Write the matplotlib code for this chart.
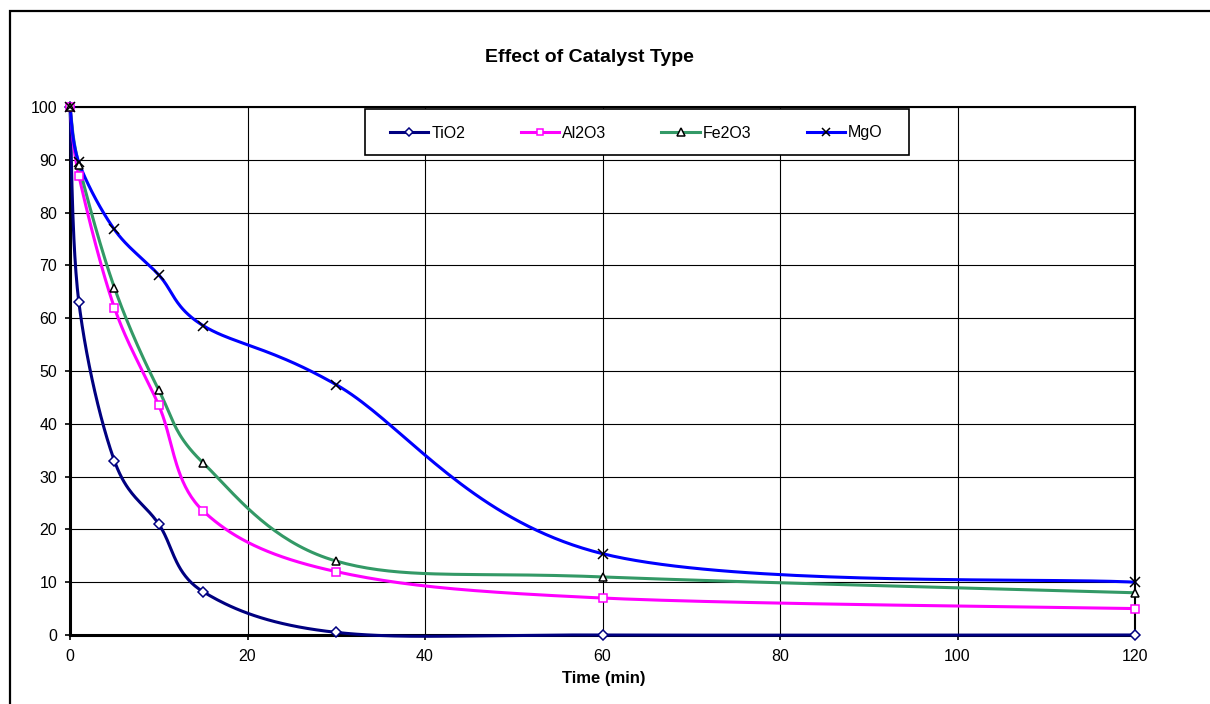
import numpy as np
import matplotlib
matplotlib.use("Agg")
import matplotlib.pyplot as plt
from matplotlib.lines import Line2D
from matplotlib.patches import Rectangle

plt.rcParams['font.family'] = ['Liberation Sans', 'DejaVu Sans']

time_min = [0, 1, 5, 10, 15, 30, 60, 120]
tio2 = [100, 63, 33, 21, 8.2, 0.5, 0, 0]
al2o3 = [100, 87, 62, 43.5, 23.5, 12, 7, 5]
fe2o3 = [100, 89, 65.8, 46.4, 32.6, 14, 11, 8]
mgo = [100, 89.5, 76.8, 68.2, 58.6, 47.4, 15.4, 10]
series_names = ["TiO2", "Al2O3", "Fe2O3", "MgO"]

x_ticks = [0, 20, 40, 60, 80, 100, 120]
y_ticks = [0, 10, 20, 30, 40, 50, 60, 70, 80, 90, 100]

W, H = 1210, 704


def smooth(xs, ys, n=40):
    """Excel-like Bezier smoothing through the given points."""
    P = np.column_stack([xs, ys]).astype(float)
    m = len(P)
    out = []
    for i in range(m - 1):
        p0 = P[i]
        p3 = P[i + 1]
        pm = P[i - 1] if i > 0 else P[i]
        pp = P[i + 2] if i + 2 < m else P[i + 1]
        c1 = p0 + (p3 - pm) / 6.0
        c2 = p3 - (pp - p0) / 6.0
        t = np.linspace(0, 1, n)[:, None]
        seg = ((1 - t) ** 3) * p0 + 3 * ((1 - t) ** 2) * t * c1 + 3 * (1 - t) * t ** 2 * c2 + t ** 3 * p3
        out.append(seg if i == 0 else seg[1:])
    arr = np.vstack(out)
    return arr[:, 0], arr[:, 1]


fig = plt.figure(figsize=(W / 100, H / 100), dpi=100)
ax = fig.add_axes([70 / W, 1 - 635 / H, (1135 - 70) / W, (635 - 107) / H])

styles = [
    dict(color="#000080", marker="D", ms=4.8, mfc="white", mec="#000080", mew=1.1),
    dict(color="#FF00FF", marker="s", ms=5.4, mfc="white", mec="#FF00FF", mew=1.1),
    dict(color="#339966", marker="^", ms=6.0, mfc="white", mec="black", mew=1.1),
    dict(color="#0000FF", marker="x", ms=6.5, mfc="black", mec="black", mew=1.1),
]

handles = []
for name, ys, st in zip(series_names, [tio2, al2o3, fe2o3, mgo], styles):
    sx, sy = smooth(time_min, ys)
    ax.plot(sx, sy, color=st["color"], lw=2.2, solid_capstyle="round", zorder=3, clip_on=False)
    ax.plot(time_min, ys, ls="none", marker=st["marker"], ms=st["ms"], mfc=st["mfc"],
            mec=st["mec"], mew=st["mew"], zorder=4, clip_on=False)
    handles.append(Line2D([], [], color=st["color"], lw=2.2, marker=st["marker"], ms=st["ms"] * 0.9,
                          mfc=st["mfc"], mec=st["mec"], mew=st["mew"], label=name))

ax.set_xlim(0, 120)
ax.set_ylim(0, 100)
ax.set_xticks(x_ticks)
ax.set_yticks(y_ticks)
ax.grid(True, color="black", lw=0.8)
ax.set_axisbelow(True)
ax.tick_params(axis="both", direction="out", length=3.8, width=1.2, labelsize=11.5, color="black")
ax.tick_params(axis="x", pad=6.5)
ax.tick_params(axis="y", pad=5.5)
for s in ["left", "bottom"]:
    ax.spines[s].set_linewidth(2.2)
for s in ["top", "right"]:
    ax.spines[s].set_linewidth(1.5)

fig.text(603.5 / W, 1 - 678 / H, "Time (min)", ha="center", va="center",
         fontsize=12, fontweight="bold")
fig.text(589.5 / W, 1 - 58 / H, "Effect of Catalyst Type", ha="center", va="center",
         fontsize=14, fontweight="bold")

# legend frame
fig.patches.append(Rectangle((365 / W, 1 - 155 / H), (909 - 365) / W, (155 - 109) / H,
                             transform=fig.transFigure, facecolor="white", edgecolor="black",
                             lw=1.2, zorder=9))
leg = fig.legend(handles=handles, loc="center left", ncol=4,
                 bbox_to_anchor=(390 / W, 1 - 133 / H), bbox_transform=fig.transFigure,
                 fontsize=11.5, frameon=False, handlelength=2.4, handletextpad=0.2,
                 columnspacing=3.45, borderaxespad=0, borderpad=0)
leg.set_zorder(10)

# outer chart border (partly outside the image)
fig.patches.append(Rectangle((10 / W, -0.5), 2.0, 1.5 - 11 / H, transform=fig.transFigure,
                             fill=False, edgecolor="black", lw=1.6))

fig.savefig("out.png", dpi=100)
